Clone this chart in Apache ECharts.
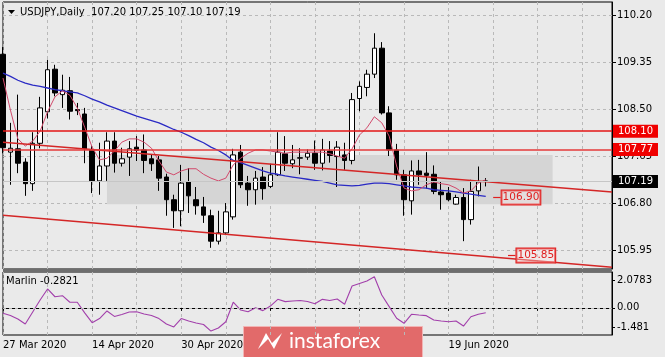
<!DOCTYPE html>
<html><head><meta charset="utf-8">
<script src="https://cdn.jsdelivr.net/npm/echarts@6/dist/echarts.min.js"></script>
<style>html,body{margin:0;padding:0;background:#eaeaea}#c{width:665px;height:357px}</style>
</head><body><div id="c"></div>
<script>
// ---- data ----
const dates = ['2020-03-27','2020-03-30','2020-03-31','2020-04-01','2020-04-02','2020-04-03','2020-04-06','2020-04-07','2020-04-08','2020-04-09','2020-04-10','2020-04-13','2020-04-14','2020-04-15','2020-04-16','2020-04-17','2020-04-20','2020-04-21','2020-04-22','2020-04-23','2020-04-24','2020-04-27','2020-04-28','2020-04-29','2020-04-30','2020-05-01','2020-05-04','2020-05-05','2020-05-06','2020-05-07','2020-05-08','2020-05-11','2020-05-12','2020-05-13','2020-05-14','2020-05-15','2020-05-18','2020-05-19','2020-05-20','2020-05-21','2020-05-22','2020-05-25','2020-05-26','2020-05-27','2020-05-28','2020-05-29','2020-06-01','2020-06-02','2020-06-03','2020-06-04','2020-06-05','2020-06-08','2020-06-09','2020-06-10','2020-06-11','2020-06-12','2020-06-15','2020-06-16','2020-06-17','2020-06-18','2020-06-19','2020-06-22','2020-06-23','2020-06-24','2020-06-25','2020-06-26'];
const futureDates = ['2020-06-29','2020-06-30','2020-07-01','2020-07-02','2020-07-03','2020-07-06','2020-07-07','2020-07-08','2020-07-09','2020-07-10','2020-07-13','2020-07-14','2020-07-15','2020-07-16','2020-07-17','2020-07-20','2020-07-21'];
const opens  = [109.49,107.72,107.78,107.54,107.15,107.88,108.45,109.22,108.76,108.83,108.49,108.41,107.76,107.20,107.47,107.92,107.52,107.63,107.81,107.76,107.60,107.58,107.27,106.86,106.66,107.18,106.86,106.73,106.57,106.11,106.26,106.55,107.72,107.16,107.04,107.27,107.10,107.31,107.69,107.51,107.61,107.63,107.70,107.52,107.74,107.64,107.67,107.57,108.69,108.89,109.13,109.60,108.43,107.76,107.31,106.84,107.38,107.34,107.32,107.00,106.98,106.78,106.90,106.50,107.02,107.20];
const highs  = [109.62,108.25,108.76,107.61,108.08,108.72,109.39,109.30,109.12,109.08,108.61,108.52,107.85,107.89,108.08,108.08,107.80,107.92,108.01,108.04,107.68,107.65,107.33,106.95,107.49,107.43,107.09,106.91,106.68,106.66,106.80,107.78,107.85,107.29,107.38,107.45,107.51,108.08,108.01,107.85,107.79,107.77,107.93,107.96,107.92,107.92,107.89,108.79,109.00,109.21,109.87,109.71,108.55,107.87,107.40,107.57,107.58,107.72,107.48,107.19,107.09,106.95,107.07,107.22,107.46,107.25];
const lows   = [107.70,107.13,107.34,106.93,107.02,107.79,108.33,108.73,108.52,108.31,108.39,107.52,106.98,106.95,107.20,107.35,107.46,107.29,107.56,107.34,107.38,107.02,106.57,106.35,106.38,106.62,106.59,106.44,105.99,106.05,106.22,106.50,107.07,106.75,106.77,106.86,107.07,107.29,107.38,107.43,107.32,107.58,107.40,107.39,107.53,107.09,107.40,107.50,108.46,108.73,109.06,108.40,107.65,107.22,106.57,106.59,107.13,107.06,106.96,106.68,106.83,106.77,106.11,106.41,106.92,107.10];
const closes = [107.80,107.79,107.52,107.15,107.88,108.52,109.21,108.79,108.84,108.46,108.47,107.78,107.20,107.47,107.92,107.52,107.60,107.78,107.75,107.57,107.51,107.25,106.86,106.66,107.16,106.93,106.75,106.58,106.11,106.26,106.64,107.67,107.13,107.04,107.25,107.06,107.31,107.72,107.52,107.58,107.62,107.70,107.52,107.76,107.66,107.81,107.57,108.67,108.91,109.13,109.60,108.43,107.76,107.31,106.86,107.38,107.31,107.30,107.01,106.95,106.86,106.90,106.50,107.01,107.18,107.19];
const maSlow = [109.15,109.09,109.02,108.97,108.93,108.91,108.88,108.85,108.83,108.81,108.79,108.74,108.68,108.63,108.57,108.52,108.47,108.42,108.37,108.33,108.29,108.25,108.19,108.13,108.08,108.02,107.95,107.89,107.81,107.75,107.67,107.57,107.53,107.48,107.43,107.38,107.34,107.32,107.29,107.27,107.25,107.23,107.21,107.19,107.16,107.13,107.12,107.11,107.12,107.14,107.16,107.16,107.15,107.13,107.11,107.09,107.08,107.07,107.04,107.03,107.02,107.00,106.98,106.96,106.94,106.92];
const maFast = [109.06,108.48,107.96,107.83,107.92,108.10,108.45,108.72,108.83,108.75,108.52,108.17,107.81,107.58,107.61,107.74,107.90,107.96,107.96,107.90,107.79,107.56,107.36,107.31,107.38,107.42,107.42,107.32,107.25,107.20,107.25,107.49,107.61,107.70,107.76,107.76,107.74,107.72,107.70,107.72,107.72,107.72,107.72,107.72,107.69,107.65,107.61,107.78,108.03,108.16,108.36,108.25,108.01,107.47,107.07,107.02,107.04,107.13,107.18,107.15,107.13,107.07,106.98,107.02,107.16,107.22];
const marlin = [-0.31,-0.46,-0.69,-1.02,-0.23,0.56,1.28,0.77,0.84,0.41,0.41,-0.29,-0.93,-0.66,-0.16,-0.52,-0.39,-0.23,-0.21,-0.36,-0.46,-0.66,-1.02,-1.21,-0.66,-0.82,-0.95,-1.05,-1.481,-1.28,-0.87,0.41,-0.10,-0.21,0.05,-0.14,0.16,0.60,0.45,0.49,0.52,0.46,0.31,0.60,0.52,0.62,0.28,1.47,1.64,1.80,2.0783,0.88,0.12,-0.64,-0.97,-0.38,-0.43,-0.47,-0.75,-0.82,-0.87,-0.82,-1.15,-0.54,-0.38,-0.2821];
const priceTicks = [105.95,106.80,107.65,108.50,109.35,110.20];
const marlinTicks = [-1.481,0,2.0783];
const marlinTickLabels = ['-1.481','0.00','2.0783'];
const dateLabelIdx = [0,12,24,60];
const dateLabels = ['27 Mar 2020','14 Apr 2020','30 Apr 2020','19 Jun 2020'];
const resistance1 = 108.10, resistance2 = 107.77, lastPrice = 107.19;
const maTarget = 106.90, lowTarget = 105.85;
const upperTrend = [107.90, 107.00];
const lowerTrend = [106.58, 105.64];
const zoneIdx = [14, 74], zonePrices = [107.67, 106.78];
const maTargetIdx = [66, 67], lowTargetIdx = [68, 69];
const titleText = 'USDJPY,Daily  107.20 107.25 107.10 107.19';
const marlinText = 'Marlin -0.2821';

// ---- chart ----
const cats = dates.concat(futureDates);
const last = cats.length - 1;
const candles = opens.map((o, i) => [o, closes[i], lows[i], highs[i]]);
const FONT = 'DejaVu Sans';
const gridDash = {color: '#b9b9b9', type: [3, 3], width: 1};
const chart = echarts.init(document.getElementById('c'), null, {renderer: 'canvas'});

function boxLabel(text, bg, fg, border) {
  return {show: true, position: 'end', formatter: text, distance: 1,
    backgroundColor: bg, color: fg, borderColor: border || bg, borderWidth: border ? 1 : 0,
    padding: [2, 5, 1, 5], fontSize: 10, fontFamily: FONT};
}
function targetLabel(text) {
  return {show: true, position: 'end', formatter: text, distance: 1,
    backgroundColor: 'rgba(255,235,235,0.35)', color: '#e02020', borderColor: '#e02020', borderWidth: 1,
    padding: [2, 1, 1, 1], fontSize: 10.5, fontFamily: FONT};
}

chart.setOption({
  animation: false,
  backgroundColor: '#eaeaea',
  grid: [
    {left: 3, right: 53, top: 2, height: 267, show: true, borderColor: '#000', borderWidth: 1, backgroundColor: 'transparent'},
    {left: 3, right: 53, top: 272, height: 63, show: true, borderColor: '#000', borderWidth: 1, backgroundColor: 'transparent'}
  ],
  xAxis: [
    {type: 'category', gridIndex: 0, data: cats, boundaryGap: false,
     axisLine: {show: false}, axisTick: {show: false}, axisLabel: {show: false},
     splitLine: {show: true, interval: (i) => i % 6 === 0, lineStyle: gridDash}},
    {type: 'category', gridIndex: 1, data: cats, boundaryGap: false,
     axisLine: {show: true, lineStyle: {color: '#000', width: 1}},
     axisTick: {show: true, interval: (i) => i % 12 === 0, length: 3, lineStyle: {color: '#000'}},
     axisLabel: {interval: (i) => dateLabelIdx.indexOf(i) >= 0,
       formatter: (v, i) => { const k = dateLabelIdx.indexOf(i); return k >= 0 ? dateLabels[k] : ''; },
       align: 'left', margin: 5, fontSize: 10, fontFamily: FONT, color: '#000'},
     splitLine: {show: true, interval: (i) => i % 6 === 0, lineStyle: gridDash}}
  ],
  yAxis: [
    {type: 'value', gridIndex: 0, position: 'right', min: 105.607, max: 110.435, scale: true,
     axisLine: {show: true, lineStyle: {color: '#000'}},
     axisTick: {show: true, customValues: priceTicks, length: 4, lineStyle: {color: '#000'}},
     axisLabel: {customValues: priceTicks, formatter: (v) => v.toFixed(2), margin: 5, fontSize: 10, fontFamily: FONT, color: '#000'},
     splitLine: {show: true, lineStyle: gridDash}},
    {type: 'value', gridIndex: 1, position: 'right', min: -2.026, max: 2.675,
     axisLine: {show: true, lineStyle: {color: '#000'}},
     axisTick: {show: true, customValues: marlinTicks, length: 3, lineStyle: {color: '#000'}},
     axisLabel: {customValues: marlinTicks, formatter: (v) => { const k = marlinTicks.indexOf(v); return k >= 0 ? marlinTickLabels[k] : ''; },
       margin: 5, fontSize: 10, fontFamily: FONT, color: '#000'},
     splitLine: {show: false}},
    {type: 'value', gridIndex: 1, position: 'right', min: -1.737, max: 2.392, show: false, splitLine: {show: false}}
  ],
  series: [
    {type: 'candlestick', name: 'USDJPY', xAxisIndex: 0, yAxisIndex: 0, data: candles, barWidth: 5, z: 3,
     itemStyle: {color: '#ffffff', color0: '#000000', borderColor: '#000000', borderColor0: '#000000', borderWidth: 1},
     markArea: {silent: true, z: 1, itemStyle: {color: '#d5d5d5'},
       data: [[{coord: [cats[zoneIdx[0]], zonePrices[0]]}, {coord: [cats[zoneIdx[1]], zonePrices[1]]}]]},
     markLine: {silent: true, symbol: ['none', 'none'], z: 6,
       data: [
         {yAxis: lastPrice, lineStyle: {color: '#c6c6c6', width: 1, type: 'solid'}, label: boxLabel('107.19', '#000', '#fff')},
         {yAxis: resistance1, lineStyle: {color: '#e31414', width: 1.5, type: 'solid'}, label: boxLabel('108.10', '#f00000', '#fff')},
         {yAxis: resistance2, lineStyle: {color: '#e43a3a', width: 1.5, type: 'solid'}, label: boxLabel('107.77', '#f00000', '#fff')},
         [{coord: [cats[maTargetIdx[0]], maTarget], lineStyle: {color: '#e02020', width: 1.2, type: 'solid'}, label: targetLabel('106.90')},
          {coord: [cats[maTargetIdx[1]], maTarget]}],
         [{coord: [cats[lowTargetIdx[0]], lowTarget], lineStyle: {color: '#e02020', width: 1.2, type: 'solid'}, label: targetLabel('105.85')},
          {coord: [cats[lowTargetIdx[1]], lowTarget]}]
       ]}},
    {type: 'line', name: 'MA slow', xAxisIndex: 0, yAxisIndex: 0, data: maSlow, symbol: 'none', z: 4,
     lineStyle: {color: '#2a2ac4', width: 1.3}},
    {type: 'line', name: 'MA fast', xAxisIndex: 0, yAxisIndex: 0, data: maFast, symbol: 'none', z: 4,
     lineStyle: {color: '#d24a6c', width: 1}},
    {type: 'line', name: 'Upper trend', xAxisIndex: 0, yAxisIndex: 0, symbol: 'none', z: 5,
     data: [[cats[0], upperTrend[0]], [cats[last], upperTrend[1]]], lineStyle: {color: '#d42626', width: 1.5}},
    {type: 'line', name: 'Lower trend', xAxisIndex: 0, yAxisIndex: 0, symbol: 'none', z: 5,
     data: [[cats[0], lowerTrend[0]], [cats[last], lowerTrend[1]]], lineStyle: {color: '#d42626', width: 1.5}},
    {type: 'line', name: 'Marlin', xAxisIndex: 1, yAxisIndex: 2, data: marlin, symbol: 'none', z: 4,
     lineStyle: {color: '#a23fab', width: 1.1},
     markLine: {silent: true, symbol: ['none', 'none'], label: {show: false},
       data: [{yAxis: 0, lineStyle: {color: '#b9b9b9', type: [3, 3], width: 1}}]}}
  ],
  graphic: [
    {type: 'rect', shape: {x: 3, y: 269, width: 609, height: 3}, style: {fill: '#6e6e6e'}, z: 10},
    {type: 'polygon', shape: {points: [[8, 10], [15, 10], [11.5, 14]]}, style: {fill: '#000'}, z: 10},
    {type: 'text', x: 20, y: 12, style: {text: titleText, font: '10px "DejaVu Sans"', fill: '#000', verticalAlign: 'middle'}, z: 10},
    {type: 'text', x: 6, y: 281, style: {text: marlinText, font: '10px "DejaVu Sans"', fill: '#000', verticalAlign: 'middle'}, z: 10},
    {type: 'group', z: 20, children: [
      {type: 'rect', shape: {x: 243.5, y: 326.5, width: 179, height: 31}, style: {fill: '#e26a6a', stroke: '#f2b4b4', lineWidth: 1}},
      {type: 'polygon', shape: {points: [[258, 349], [266, 333], [272, 343], [282, 333], [274, 349], [268, 339]]}, style: {fill: '#ffffff'}},
      {type: 'text', x: 289, y: 341, style: {text: 'instaforex', font: '21px Lato', fill: '#ffffff', verticalAlign: 'middle'}}
    ]}
  ]
});
</script>
</body></html>
